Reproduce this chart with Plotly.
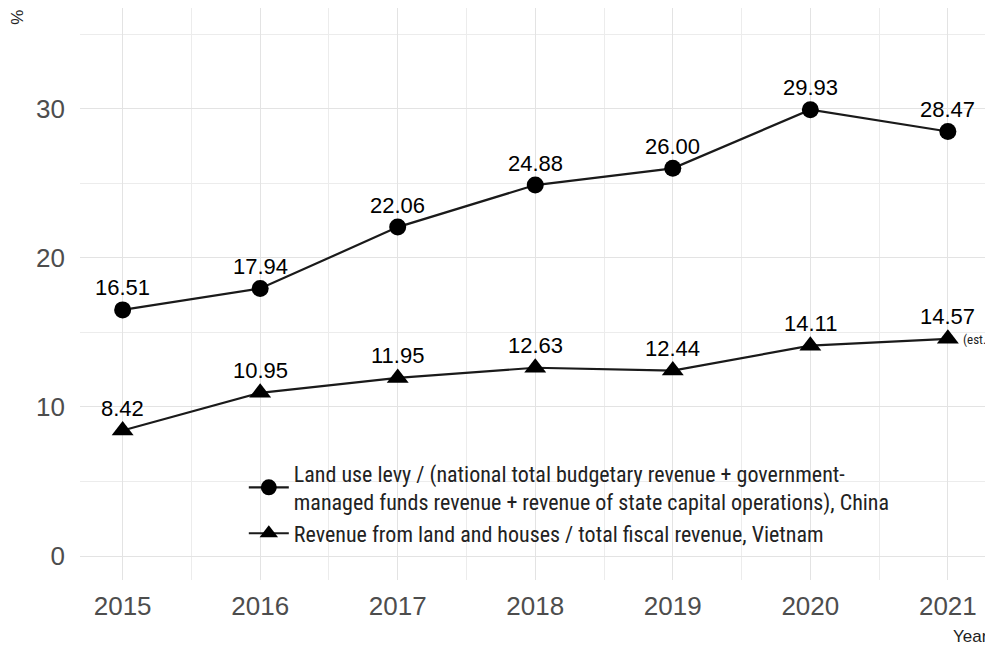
import plotly.graph_objects as go

years = [2015, 2016, 2017, 2018, 2019, 2020, 2021]
china = [16.51, 17.94, 22.06, 24.88, 26.00, 29.93, 28.47]
vietnam = [8.42, 10.95, 11.95, 12.63, 12.44, 14.11, 14.57]
china_name = "Land use levy / (national total budgetary revenue + government-<br>managed funds revenue + revenue of state capital operations), China"
vietnam_name = "Revenue from land and houses / total fiscal revenue, Vietnam"

line_color = "#1a1a1a"
label_font = dict(family="Liberation Sans, Arial, sans-serif", size=22, color="#000000")
tick_font = dict(family="Liberation Sans, Arial, sans-serif", size=26, color="#4d4d4d")
narrow = "Liberation Sans Narrow, Roboto Condensed, DejaVu Sans Condensed, sans-serif"

fig = go.Figure()
fig.add_trace(go.Scatter(x=years, y=china, mode="lines+markers", name=china_name,
                         line=dict(color=line_color, width=2.2),
                         marker=dict(symbol="circle", size=17, color="#000000")))
fig.add_trace(go.Scatter(x=years, y=vietnam, mode="lines+markers", name=vietnam_name,
                         line=dict(color=line_color, width=2.2),
                         marker=dict(symbol="triangle-up", size=19, color="#000000")))

annotations = []
for x, v in zip(years, china):
    annotations.append(dict(x=x, y=v, xref="x", yref="y", text=f"{v:.2f}", showarrow=False,
                            yshift=22, font=label_font))
for x, v in zip(years, vietnam):
    annotations.append(dict(x=x, y=v, xref="x", yref="y", text=f"{v:.2f}", showarrow=False,
                            yshift=22, font=label_font))
annotations.append(dict(x=years[-1], y=vietnam[-1], xref="x", yref="y", text="(est.)",
                        showarrow=False, xanchor="left", xshift=13, yshift=-1,
                        font=dict(family=narrow, size=13, color="#222222")))
annotations.append(dict(x=-0.0685, y=0.983, xref="paper", yref="paper", text="%", showarrow=False,
                        textangle=-90, xanchor="center", yanchor="middle",
                        font=dict(family="Liberation Sans, Arial", size=17, color="#222222")))
annotations.append(dict(x=1.0055, y=-0.098, xref="paper", yref="paper", text="Year", showarrow=False,
                        xanchor="right", yanchor="middle",
                        font=dict(family="Liberation Sans, Arial", size=17, color="#222222")))

# the page body adds an 8px offset; compensate so the plot area lands at x 80-985, y 8-580
fig.update_layout(
    width=985, height=639,
    margin=dict(l=72, r=8, t=0, b=67),
    paper_bgcolor="white", plot_bgcolor="white",
    showlegend=True,
    legend=dict(x=0.181, y=0.045, xanchor="left", yanchor="bottom",
                bgcolor="rgba(0,0,0,0)",
                font=dict(family=narrow, size=22, color="#222222"),
                tracegroupgap=0, itemwidth=40),
    annotations=annotations,
    xaxis=dict(range=[2014.69, 2021.27], tickmode="array", tickvals=years,
               ticktext=[str(y) for y in years], showline=False, zeroline=False,
               showgrid=True, gridcolor="#e3e3e3", gridwidth=1.2, automargin=False,
               minor=dict(tickvals=[y + 0.5 for y in years[:-1]], showgrid=True,
                          gridcolor="#ececec", gridwidth=0.9),
               tickfont=tick_font, ticks="", ticklabelstandoff=8),
    yaxis=dict(range=[-1.6, 36.75], tickvals=[0, 10, 20, 30], showline=False, zeroline=False,
               showgrid=True, gridcolor="#e3e3e3", gridwidth=1.2, automargin=False,
               minor=dict(tickvals=[5, 15, 25, 35], showgrid=True,
                          gridcolor="#ececec", gridwidth=0.9),
               tickfont=tick_font, ticks="", ticklabelstandoff=14),
)

fig.write_html("out.html")
